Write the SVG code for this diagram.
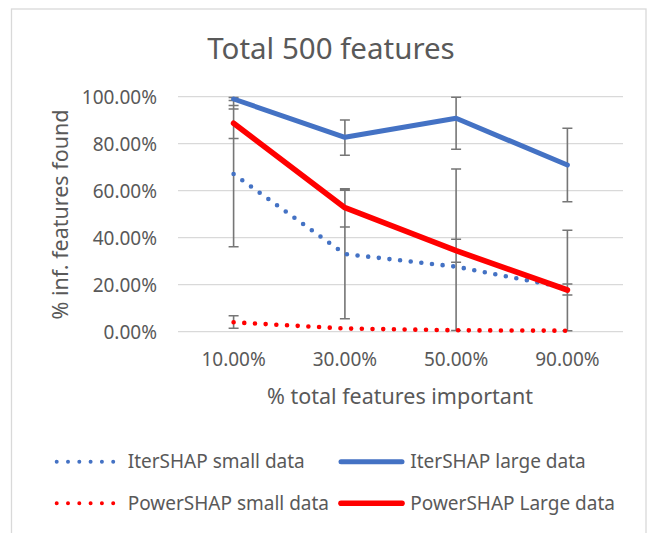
<svg xmlns="http://www.w3.org/2000/svg" width="652" height="533" viewBox="0 0 652 533">
<style>
text{font-family:"Noto Sans","Open Sans","Liberation Sans",sans-serif;fill:#595959}
.grid{stroke:#d9d9d9;stroke-width:1.3;fill:none}
.ytick{font-size:19px;text-anchor:end}
.xtick{font-size:19px;text-anchor:middle}
.leg{font-size:19px}
.err{stroke:#767676;stroke-width:1.6;fill:none}
.solid{fill:none;stroke-width:5;stroke-linejoin:round;stroke-linecap:round}
.dot{fill:none;stroke-width:4.6;stroke-linecap:round;stroke-dasharray:0 10.7}
.blue{stroke:#4472C4}
.red{stroke:#FF0000}
</style>
<rect x="0" y="0" width="652" height="533" fill="#ffffff"/>
<rect id="frame" x="11.5" y="9" width="634.5" height="540" fill="#ffffff" stroke="#d9d9d9" stroke-width="1.3"/>
<text id="title" x="331" y="59" font-size="29.5" text-anchor="middle">Total 500 features</text>
<g id="gridlines">
<path class="grid" d="M178 96.7H623M178 143.7H623M178 190.7H623M178 237.7H623M178 284.7H623M178 331.7H623"/>
</g>
<g id="y-axis">
<text class="ytick" x="157" y="103.5">100.00%</text>
<text class="ytick" x="157" y="150.5">80.00%</text>
<text class="ytick" x="157" y="197.5">60.00%</text>
<text class="ytick" x="157" y="244.5">40.00%</text>
<text class="ytick" x="157" y="291.5">20.00%</text>
<text class="ytick" x="157" y="338.5">0.00%</text>
<text x="68" y="214.5" font-size="21.5" text-anchor="middle" transform="rotate(-90 68 214.5)">% inf. features found</text>
</g>
<g id="x-axis">
<text class="xtick" x="233.6" y="366">10.00%</text>
<text class="xtick" x="344.9" y="366">30.00%</text>
<text class="xtick" x="456.1" y="366">50.00%</text>
<text class="xtick" x="567.4" y="366">90.00%</text>
<text x="400" y="404" font-size="21.5" text-anchor="middle">% total features important</text>
</g>
<g id="error-bars" class="err">
<path d="M233.6 97.5V246.7M228.6 97.5h10M228.6 100.5h10M228.6 105.5h10M228.6 109h10M228.6 138.5h10M228.6 246.7h10"/>
<path d="M233.6 315.7V328.3M228.6 315.7h10M228.6 328.3h10"/>
<path d="M344.9 120V155.3M344.9 188.7V318.7M339.9 120h10M339.9 155.3h10M339.9 188.7h10M339.9 190.3h10M339.9 227h10M339.9 318.7h10"/>
<path d="M456.1 97.3V149.3M456.1 169V331M451.1 97.3h10M451.1 149.3h10M451.1 169h10M451.1 239.3h10M451.1 262.3h10M451.1 330.5h10"/>
<path d="M567.4 128.3V201.7M567.4 230.3V331M562.4 128.3h10M562.4 201.7h10M562.4 230.3h10M562.4 284h10M562.4 295h10M562.4 330.8h10"/>
</g>
<g id="series-itershap-small">
<path class="dot blue" d="M233.6 174L344.9 254L456.1 266.7L567.4 288"/>
</g>
<g id="series-powershap-small">
<path class="dot red" d="M233.6 322.3L344.9 328.5L456.1 330.3L567.4 330.7"/>
</g>
<g id="series-itershap-large">
<path class="solid blue" d="M233.6 99L344.9 137.3L456.1 118.3L567.4 165"/>
</g>
<g id="series-powershap-large">
<path class="solid red" style="stroke-width:5.6" d="M233.6 123.3L344.9 207.7L456.1 250.7L567.4 290"/>
</g>
<g id="legend">
<g id="legend-itershap-small">
<path class="dot blue" style="stroke-dasharray:0 11.3;stroke-width:4" d="M56.7 461.7H113.3"/>
<text class="leg" x="127.7" y="468">IterSHAP small data</text>
</g>
<g id="legend-itershap-large">
<path class="solid blue" d="M341 461.7H402"/>
<text class="leg" x="410.3" y="468">IterSHAP large data</text>
</g>
<g id="legend-powershap-small">
<path class="dot red" style="stroke-dasharray:0 11.3;stroke-width:4" d="M56.7 503.3H113.3"/>
<text class="leg" x="127.7" y="510">PowerSHAP small data</text>
</g>
<g id="legend-powershap-large">
<path class="solid red" style="stroke-width:5.6" d="M341 503.3H402"/>
<text class="leg" x="410.3" y="510">PowerSHAP Large data</text>
</g>
</g>
</svg>
